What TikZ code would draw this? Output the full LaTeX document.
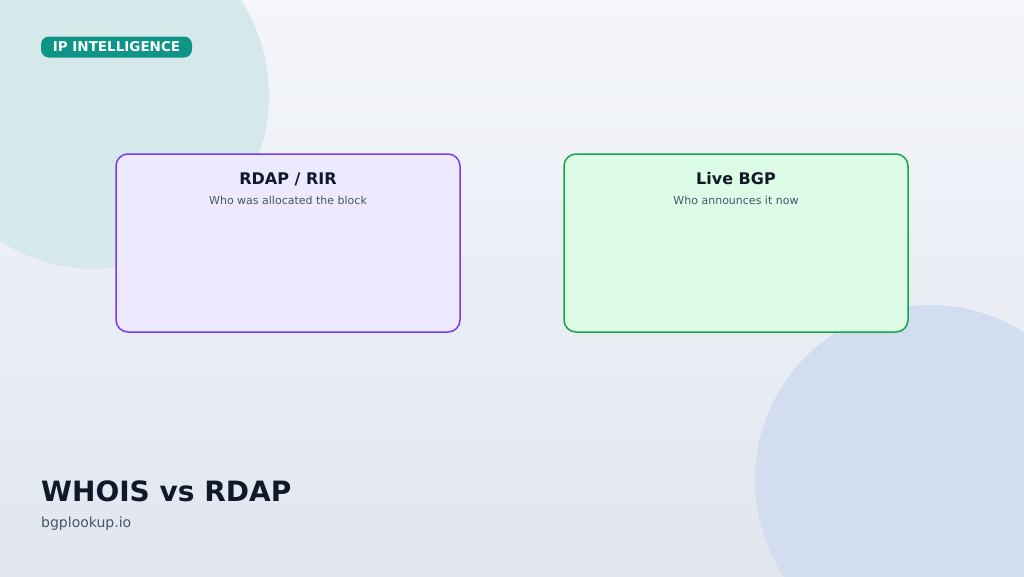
\documentclass[tikz,border=0pt]{standalone}
\usepackage{fontspec}
\setmainfont{DejaVu Sans}
\definecolor{bgtop}{HTML}{F4F6FA}
\definecolor{bgbot}{HTML}{E1E6EF}
\definecolor{blobteal}{HTML}{D5E8EA}
\definecolor{blobblue}{HTML}{D3DDF0}
\definecolor{badgeteal}{HTML}{0F9488}
\definecolor{rdapline}{HTML}{7C3AED}
\definecolor{rdapfill}{HTML}{EDE9FE}
\definecolor{bgpline}{HTML}{16A34A}
\definecolor{bgpfill}{HTML}{DCFCE7}
\definecolor{inkdark}{HTML}{111827}
\definecolor{inkgrey}{HTML}{475569}
\tikzset{
  panel/.style={rounded corners=12pt, line width=1.5pt, minimum width=344pt, minimum height=178pt},
  paneltitle/.style={font=\fontsize{16}{19}\selectfont\bfseries, text=inkdark},
  panelsub/.style={font=\fontsize{11}{13}\selectfont, text=inkgrey}
}
\begin{document}
\begin{tikzpicture}[x=1pt,y=-1pt]
    % Background
    \useasboundingbox (0,0) rectangle (1024,576);
    \shade[top color=bgtop, bottom color=bgbot] (0,0) rectangle (1024,576);
    \begin{scope}
    \clip (0,0) rectangle (1024,576);
    \fill[blobteal] (95,95) circle (174);
    \fill[blobblue] (930,480) circle (175);
    \end{scope}

    % Badge
    \node[fill=badgeteal, rounded corners=8pt, text=white, font=\fontsize{13.5}{15}\selectfont\bfseries,
          minimum width=151pt, minimum height=21pt, inner sep=0pt] (badge) at (116.5,47) {IP INTELLIGENCE};

    % Panels
    \node[panel, draw=rdapline, fill=rdapfill] (rdap) at (288,243) {};
    \node[panel, draw=bgpline, fill=bgpfill] (bgp) at (736,243) {};

    % Panel labels
    \node[paneltitle] (rdaptitle) at (288,179) {RDAP / RIR};
    \node[panelsub] (rdapsub) at (288,200) {Who was allocated the block};
    \node[paneltitle] (bgptitle) at (736,179) {Live BGP};
    \node[panelsub] (bgpsub) at (736,200) {Who announces it now};

    % Footer
    \node[anchor=west, font=\fontsize{28}{32}\selectfont\bfseries, text=inkdark, inner sep=0pt] (title) at (41,491) {WHOIS vs RDAP};
    \node[anchor=west, font=\fontsize{14}{16}\selectfont, text=inkgrey, inner sep=0pt] (site) at (41,524) {bgplookup.io};
\end{tikzpicture}
\end{document}
